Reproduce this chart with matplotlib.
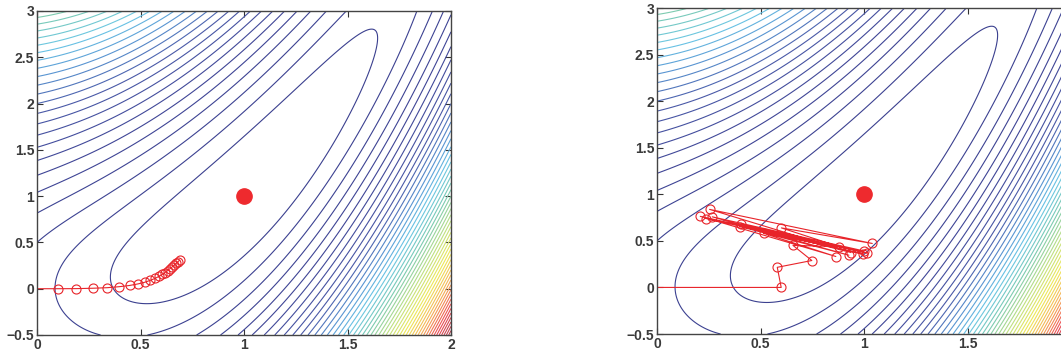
import numpy as np
import matplotlib
matplotlib.use("Agg")
import matplotlib.pyplot as plt
from matplotlib.colors import LinearSegmentedColormap

# Gradient descent paths, starting at (0, 0)
path_a_x = [0.0, 0.100, 0.190, 0.269, 0.339, 0.398, 0.447, 0.488, 0.521, 0.548, 0.570,
            0.589, 0.605, 0.619, 0.631, 0.642, 0.653, 0.663, 0.672, 0.681, 0.689]
path_a_y = [0.0, 0.000, 0.001, 0.005, 0.011, 0.022, 0.035, 0.052, 0.070, 0.091, 0.111,
            0.133, 0.154, 0.175, 0.196, 0.216, 0.236, 0.255, 0.273, 0.291, 0.309]
path_b_x = [0.0, 0.600, 0.581, 0.748, 0.657, 0.878, 0.601, 1.040, 0.254, 0.938, 0.407,
            1.013, 0.209, 0.864, 0.515, 1.001, 0.267, 0.927, 0.400, 0.997, 0.237]
path_b_y = [0.0, 0.000, 0.216, 0.289, 0.451, 0.439, 0.639, 0.472, 0.838, 0.374, 0.677,
            0.370, 0.763, 0.332, 0.581, 0.391, 0.758, 0.346, 0.654, 0.358, 0.740]
minimum = (1.0, 1.0)
x_ticks = [0, 0.5, 1, 1.5, 2]
y_ticks = [-0.5, 0, 0.5, 1, 1.5, 2, 2.5, 3]
n_levels = 50

# printed-jet look: navy low levels, washed high levels
cmap = LinearSegmentedColormap.from_list("printjet", [
    (0.00, "#3a3f8e"), (0.12, "#3f4596"), (0.22, "#4a5aa8"), (0.30, "#5a9ad5"),
    (0.36, "#6ac6e6"), (0.45, "#7ccbb0"), (0.55, "#c0e080"), (0.65, "#eee858"),
    (0.76, "#f5b058"), (0.875, "#ec4c55"), (1.00, "#b04252")])

# objective surface
gx = np.linspace(0, 2, 400)
gy = np.linspace(-0.5, 3, 400)
X, Y = np.meshgrid(gx, gy)
Z = 0.5 * (X**2 - Y)**2 + 0.5 * (X - 1)**2
zmin, zmax = 0.0, Z.max()
levels = np.linspace(zmin, zmax, n_levels + 2)[1:-1]

fig = plt.figure(figsize=(10.61, 3.54), dpi=100)
ax1 = fig.add_axes([37/1061, 19/354, 414/1061, 324/354])
ax2 = fig.add_axes([657/1061, 20/354, 414/1061, 326/354])

tick_font = dict(family=["Liberation Sans", "DejaVu Sans"], size=10, weight="bold")

for ax, px, py in ((ax1, path_a_x, path_a_y), (ax2, path_b_x, path_b_y)):
    ax.contour(X, Y, Z, levels=levels, cmap=cmap, vmin=zmin, vmax=zmax,
               linewidths=0.8)
    ax.plot(px, py, color="#e8242a", lw=0.8, marker="o", ms=6.5, mfc="none",
            mec="#e8242a", mew=0.8, markevery=list(range(1, len(px))))
    ax.plot([minimum[0]], [minimum[1]], "o", color="#ee2a2e", ms=11)
    ax.set_xlim(0, 2)
    ax.set_ylim(-0.5, 3)
    ax.set_xticks(x_ticks)
    ax.set_yticks(y_ticks)
    labels = [f"{v:g}" for v in x_ticks]
    if ax is ax2:
        labels[-1] = ""
    ax.set_xticklabels(labels, **tick_font, color="#3a3a3a")
    ax.set_yticklabels([f"{v:g}".replace("-", "\u2212") for v in y_ticks], **tick_font,
                       color="#3a3a3a")
    ax.tick_params(direction="in", length=4, width=0.8, top=True, right=True,
                   color="#333333", pad=2)
    for s in ax.spines.values():
        s.set_color("#444444")
        s.set_linewidth(1.0)

fig.savefig("out.png", dpi=100)
